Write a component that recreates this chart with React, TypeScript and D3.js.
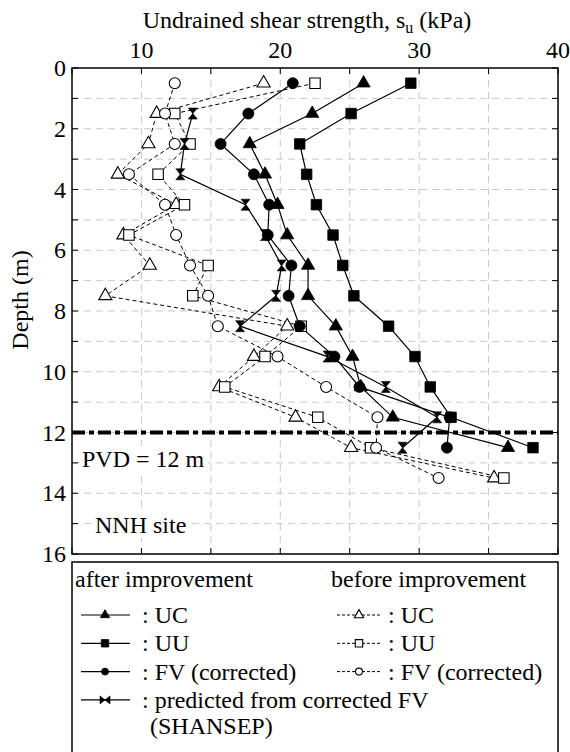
import React from 'react'
import * as d3 from 'd3'

// depths (m) of the sample points
const depthsAfter = [0.5, 1.5, 2.5, 3.5, 4.5, 5.5, 6.5, 7.5, 8.5, 9.5, 10.5, 11.5, 12.5]
const depthsShansep = [1.5, 2.5, 3.5, 4.5, 5.5, 6.5, 7.5, 8.5, 9.5, 10.5, 11.5, 12.5]
const depthsBefore = [0.5, 1.5, 2.5, 3.5, 4.5, 5.5, 6.5, 7.5, 8.5, 9.5, 10.5, 11.5, 12.5, 13.5]

// after improvement (kPa)
const ucAfter = [26.0, 22.3, 17.8, 18.9, 19.8, 20.5, 22.0, 22.0, 24.0, 25.2, 25.8, 28.1, 36.4]
const uuAfter = [29.4, 25.1, 21.4, 21.9, 22.6, 23.8, 24.5, 25.3, 27.8, 29.7, 30.8, 32.3, 38.2]
const fvAfter = [20.9, 17.7, 15.7, 18.1, 19.2, 19.1, 20.8, 20.6, 21.4, 23.9, 25.7, 32.2, 32.0]
const shansep = [13.7, 13.1, 12.8, 17.5, 18.9, 20.1, 19.7, 17.1, 23.4, 27.6, 31.3, 28.8]

// before improvement (kPa)
const ucBefore = [18.8, 11.1, 10.5, 8.3, 12.5, 8.7, 10.6, 7.4, 20.5, 18.1, 15.6, 21.1, 25.1, 35.4]
const uuBefore = [22.5, 12.4, 13.5, 11.2, 13.1, 9.1, 14.8, 13.7, 21.5, 18.9, 16.0, 22.7, 26.5, 36.1]
const fvBefore = [12.4, 11.7, 12.4, 9.1, 11.7, 12.5, 13.5, 14.8, 15.5, 19.8, 23.3, 27.0, 26.9, 31.4]

const xTickLabels = [10, 20, 30, 40]
const yTickLabels = [0, 2, 4, 6, 8, 10, 12, 14, 16]
const pvdDepth = 12

const x = d3.scaleLinear().domain([5, 40]).range([72, 558])
const y = d3.scaleLinear().domain([0, 16]).range([68, 554])

const line = d3
  .line<[number, number]>()
  .x((d) => x(d[0]))
  .y((d) => y(d[1]))

const zip = (vals: number[], depths: number[]): [number, number][] =>
  vals.map((v, i) => [v, depths[i]])

const triPath = (s: number) => d3.symbol().type(d3.symbolTriangle).size(s)()
const sqPath = (s: number) => d3.symbol().type(d3.symbolSquare).size(s)()
const hourglass = (w: number, h: number) =>
  `M${-w},${-h}L${w},${-h}L${-w},${h}L${w},${h}Z`
const bowtie = (w: number, h: number) =>
  `M${-w},${-h}L${w},${h}L${w},${-h}L${-w},${h}Z`

const Marker = ({ kind, open, cx, cy, small }: any) => {
  const fill = open ? '#fff' : '#000'
  const sw = open ? 1.1 : 0.8
  const k = small ? 0.5 : 1
  if (kind === 'tri')
    return <path d={triPath(75 * k)!} transform={`translate(${cx},${cy})`} fill={fill} stroke="#000" strokeWidth={sw} />
  if (kind === 'sq')
    return <path d={sqPath(110 * k)!} transform={`translate(${cx},${cy})`} fill={fill} stroke="#000" strokeWidth={sw} />
  if (kind === 'circ')
    return <circle cx={cx} cy={cy} r={small ? 3.5 : 5.5} fill={fill} stroke="#000" strokeWidth={sw} />
  if (kind === 'hg')
    return <path d={small ? bowtie(5, 4) : hourglass(4.5, 5.5)} transform={`translate(${cx},${cy})`} fill="#000" stroke="#000" strokeWidth={0.6} />
  return null
}

const series = [
  { vals: ucBefore, depths: depthsBefore, kind: 'tri', open: true },
  { vals: uuBefore, depths: depthsBefore, kind: 'sq', open: true },
  { vals: fvBefore, depths: depthsBefore, kind: 'circ', open: true },
  { vals: shansep, depths: depthsShansep, kind: 'hg', open: false },
  { vals: ucAfter, depths: depthsAfter, kind: 'tri', open: false },
  { vals: uuAfter, depths: depthsAfter, kind: 'sq', open: false },
  { vals: fvAfter, depths: depthsAfter, kind: 'circ', open: false },
]

const legendAfter = [
  { kind: 'tri', label: ': UC' },
  { kind: 'sq', label: ': UU' },
  { kind: 'circ', label: ': FV (corrected)' },
]

export default function App() {
  const [x0, x1] = x.range()
  const [y0, y1] = y.range()
  const xGrid = d3.range(10, 40, 5)
  const yGrid = d3.range(1, 16, 1)
  const xTicks = d3.range(5, 41, 5)
  const yTicks = d3.range(0, 17, 1)
  const rowY = (i: number) => 615 + i * 28.3

  return (
    <svg width={570} height={752} style={{ position: 'absolute', left: 0, top: 0, background: '#fff' }}>
      <style>{`text { font-family: 'Liberation Serif', 'Times New Roman', serif; font-size: 24px; }`}</style>
      {/* grid */}
      {xGrid.map((v) => (
        <line key={'gx' + v} x1={x(v)} x2={x(v)} y1={y0} y2={y1} stroke="#c8c8c8" strokeDasharray="7,5" />
      ))}
      {yGrid.map((v) => (
        <line key={'gy' + v} x1={x0} x2={x1} y1={y(v)} y2={y(v)} stroke="#c8c8c8" strokeDasharray="7,5" />
      ))}

      {/* ticks (inward) */}
      {xTicks.map((v) => (
        <g key={'tx' + v}>
          <line x1={x(v)} x2={x(v)} y1={y0} y2={y0 + 6} stroke="#000" />
          <line x1={x(v)} x2={x(v)} y1={y1} y2={y1 - 6} stroke="#000" />
        </g>
      ))}
      {yTicks.map((v) => (
        <g key={'ty' + v}>
          <line x1={x0} x2={x0 + 6} y1={y(v)} y2={y(v)} stroke="#000" />
          <line x1={x1} x2={x1 - 6} y1={y(v)} y2={y(v)} stroke="#000" />
        </g>
      ))}

      {/* labels inside plot with white background */}
      <rect x={80} y={446} width={128} height={26} fill="#fff" />
      <text x={82} y={467}>PVD = 12 m</text>
      <rect x={93} y={508} width={96} height={30} fill="#fff" />
      <text x={95} y={533}>NNH site</text>

      {/* data lines */}
      {series.map((s, i) => (
        <path
          key={'l' + i}
          d={line(zip(s.vals, s.depths))!}
          fill="none"
          stroke="#000"
          strokeWidth={s.open ? 1 : 1.2}
          strokeDasharray={s.open ? '4,3' : undefined}
        />
      ))}

      {/* PVD line */}
      <line x1={x0} x2={x1} y1={y(pvdDepth)} y2={y(pvdDepth)} stroke="#000" strokeWidth={4} strokeDasharray="13,4,5,4" />

      {/* markers */}
      {series.map((s, i) =>
        s.vals.map((v, j) => (
          <Marker key={'m' + i + '-' + j} kind={s.kind} open={s.open} cx={x(v)} cy={y(s.depths[j])} />
        ))
      )}

      {/* frame */}
      <rect x={x0} y={y0} width={x1 - x0} height={y1 - y0} fill="none" stroke="#000" strokeWidth={1.5} />

      {/* axis labels */}
      {xTickLabels.map((v) => (
        <text key={'xl' + v} x={x(v)} y={58} textAnchor="middle">{v}</text>
      ))}
      {yTickLabels.map((v) => (
        <text key={'yl' + v} x={66} y={y(v) + 8} textAnchor="end">{v}</text>
      ))}
      <text x={307} y={28} textAnchor="middle">
        Undrained shear strength, s<tspan dy={5} style={{ fontSize: 16 }}>u</tspan><tspan dy={-5}> (kPa)</tspan>
      </text>
      <text transform={`translate(28, 300) rotate(-90)`} textAnchor="middle">Depth (m)</text>

      {/* legend */}
      <rect x={x0} y={562} width={x1 - x0} height={200} fill="#fff" stroke="#000" strokeWidth={1.5} />
      <text x={75} y={587}>after improvement</text>
      <text x={331} y={587}>before improvement</text>
      {legendAfter.map((d, i) => (
        <g key={'la' + i}>
          <line x1={81} x2={130} y1={rowY(i)} y2={rowY(i)} stroke="#000" strokeWidth={1.2} />
          <Marker kind={d.kind} open={false} cx={105} cy={rowY(i)} small />
          <text x={142} y={rowY(i) + 8}>{d.label}</text>
          <line x1={337} x2={381} y1={rowY(i)} y2={rowY(i)} stroke="#000" strokeWidth={1} strokeDasharray="3,2" />
          <Marker kind={d.kind} open cx={359} cy={rowY(i)} small />
          <text x={388} y={rowY(i) + 8}>{d.label}</text>
        </g>
      ))}
      <line x1={81} x2={130} y1={rowY(3)} y2={rowY(3)} stroke="#000" strokeWidth={1.2} />
      <Marker kind="hg" cx={105} cy={rowY(3)} small />
      <text x={142} y={rowY(3) + 8}>: predicted from corrected FV</text>
      <text x={150} y={rowY(4) + 6}>(SHANSEP)</text>
    </svg>
  )
}
